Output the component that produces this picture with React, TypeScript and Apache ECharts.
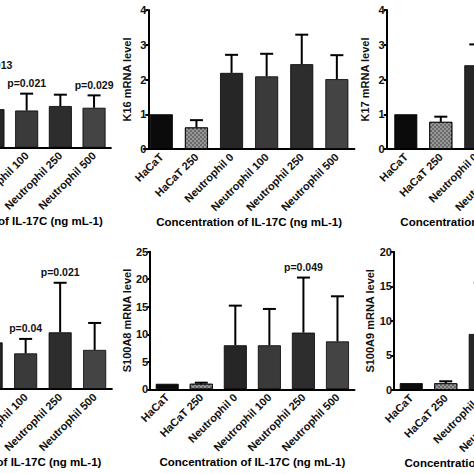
import React, { useEffect, useRef } from "react";
import * as echarts from "echarts";

const OX = 200;
const W = 820;
const FONT = "'Liberation Sans', Arial, sans-serif";

const categories = ["HaCaT", "HaCaT 250", "Neutrophil 0", "Neutrophil 100", "Neutrophil 250", "Neutrophil 500"];
const xTitle = "Concentration of IL-17C (ng mL-1)";

// top-left panel (cropped)
const tlMeans = [1.0, 0.9, 1.12, 1.08, 1.21, 1.16];
const tlErrTop = [null, 1.0, 2.09, 1.57, 1.54, 1.52];
const tlP = ["", "", "p=0.013", "p=0.021", "", "p=0.029"];

// K16
const k16Means = [1.0, 0.62, 2.19, 2.09, 2.44, 2.01];
const k16ErrTop = [null, 0.83, 2.71, 2.74, 3.29, 2.7];
const k16P = ["", "", "", "", "", ""];

// K17 (cropped)
const k17Means = [1.0, 0.78, 2.41, 2.3, 2.5, 2.2];
const k17ErrTop = [null, 0.93, 3.01, 3.0, 3.2, 2.9];
const k17P = ["", "", "", "", "", ""];

// bottom-left panel (cropped)
const blMeans = [1.0, 1.1, 8.46, 6.47, 10.3, 7.1];
const blErrTop = [null, 1.3, 13.0, 9.1, 19.3, 12.0];
const blP = ["", "", "", "p=0.04", "p=0.021", ""];

// S100A8
const a8Means = [1.0, 1.0, 8.0, 8.0, 10.3, 8.7];
const a8ErrTop = [null, 1.2, 15.2, 14.6, 20.3, 16.9];
const a8P = ["", "", "", "", "p=0.049", ""];

// S100A9 (cropped)
const a9Means = [1.0, 0.97, 8.1, 8.0, 9.5, 8.5];
const a9ErrTop = [null, 1.26, 15.5, 14.5, 17.0, 15.0];
const a9P = ["", "", "", "", "", ""];

const yTicks4 = { max: 4, interval: 1 };
const yTicks25 = { max: 25, interval: 5 };
const yTicks20 = { max: 20, interval: 5 };

const barColors = ["#0b0b0b", "#6a6a6a", "#262626", "#3a3a3a", "#2d2d2d", "#444444"];

const panels = [
  { left: -91.3, top: 10, width: 202.2, height: 137.7, yOffset: 0, yName: "", ticks: yTicks4, means: tlMeans, errs: tlErrTop, p: tlP, nameGap: 64 },
  { left: 143.8, top: 10, width: 210.6, height: 139, yOffset: -4.5, yName: "K16 mRNA level", ticks: yTicks4, means: k16Means, errs: k16ErrTop, p: k16P, nameGap: 64 },
  { left: 388.3, top: 10, width: 210, height: 139, yOffset: 1.6, yName: "K17 mRNA level", ticks: yTicks4, means: k17Means, errs: k17ErrTop, p: k17P, nameGap: 64 },
  { left: -95.1, top: 251.4, width: 207, height: 137.6, yOffset: 0, yName: "", ticks: yTicks25, means: blMeans, errs: blErrTop, p: blP, nameGap: 65 },
  { left: 150.2, top: 251.7, width: 204.3, height: 137.6, yOffset: 0, yName: "S100A8 mRNA level", ticks: yTicks25, means: a8Means, errs: a8ErrTop, p: a8P, nameGap: 65 },
  { left: 394, top: 251.7, width: 207, height: 138.3, yOffset: 0, yName: "S100A9 mRNA level", ticks: yTicks20, means: a9Means, errs: a9ErrTop, p: a9P, nameGap: 65 },
];

export default function App() {
  const ref = useRef<HTMLDivElement>(null);
  useEffect(() => {
    if (!ref.current) return;
    const chart = echarts.init(ref.current, null, { renderer: "svg" });
    const option: any = {
      animation: false,
      backgroundColor: "#fff",
      textStyle: { fontFamily: FONT },
      grid: panels.map((p) => ({ left: p.left + OX, top: p.top, width: p.width, height: p.height })),
      xAxis: panels.map((p, i) => ({
        type: "category",
        gridIndex: i,
        data: categories,
        boundaryGap: true,
        axisLine: { lineStyle: { color: "#000", width: 2 } },
        axisTick: { alignWithLabel: true, length: 4, lineStyle: { color: "#000", width: 2 } },
        axisLabel: { rotate: 45, interval: 0, fontSize: 11, fontWeight: "bold", color: "#111", fontFamily: FONT, margin: 6 },
        name: xTitle,
        nameLocation: "middle",
        nameGap: p.nameGap,
        nameTextStyle: { fontSize: 11.5, fontWeight: "bold", color: "#000", fontFamily: FONT },
      })),
      yAxis: panels.map((p, i) => ({
        type: "value",
        gridIndex: i,
        min: 0,
        max: p.ticks.max,
        interval: p.ticks.interval,
        offset: p.yOffset,
        splitLine: { show: false },
        axisLine: { show: true, lineStyle: { color: "#000", width: 2 } },
        axisTick: { show: true, length: 3, lineStyle: { color: "#000", width: 2 } },
        axisLabel: { fontSize: 11, fontWeight: "bold", color: "#111", fontFamily: FONT, margin: 2 },
        name: p.yName,
        nameLocation: "middle",
        nameGap: 16,
        nameTextStyle: { fontSize: 11, fontWeight: "bold", color: "#111", fontFamily: FONT },
      })),
      series: panels.flatMap((p, i) => [
        {
          type: "bar",
          xAxisIndex: i,
          yAxisIndex: i,
          barWidth: 23,
          data: p.means.map((v, j) => ({
            value: v,
            itemStyle: {
              color: barColors[j],
              borderColor: "#000",
              borderWidth: 0.8,
              decal:
                j === 1
                  ? { symbol: "rect", symbolSize: 1, dashArrayX: [[2, 2], [0, 2, 2, 0]], dashArrayY: [2, 0], color: "rgba(255,255,255,0.3)", rotation: 0 }
                  : undefined,
            },
          })),
        },
        {
          type: "custom",
          xAxisIndex: i,
          yAxisIndex: i,
          clip: false,
          z: 5,
          data: p.means.map((v, j) => [j, v, p.errs[j] == null ? v : p.errs[j]]),
          renderItem: (params: any, api: any) => {
            const j = params.dataIndex;
            const e = p.errs[j];
            const children: any[] = [];
            if (e != null) {
              const base = api.coord([j, p.means[j]]);
              const top = api.coord([j, e]);
              children.push({ type: "line", shape: { x1: base[0], y1: base[1], x2: top[0], y2: top[1] }, style: { stroke: "#000", lineWidth: 2 } });
              children.push({ type: "line", shape: { x1: top[0] - 6.5, y1: top[1], x2: top[0] + 6.5, y2: top[1] }, style: { stroke: "#000", lineWidth: 2 } });
              if (p.p[j]) {
                children.push({
                  type: "text",
                  x: top[0],
                  y: top[1] - 5,
                  style: { text: p.p[j], textAlign: "center", textVerticalAlign: "bottom", fontSize: 10.5, fontWeight: "bold", fill: "#111", fontFamily: FONT },
                });
              }
            }
            return { type: "group", children };
          },
        },
      ]),
    };
    chart.setOption(option);
    return () => chart.dispose();
  }, []);
  return (
    <div style={{ position: "absolute", left: 0, top: 0, width: 474, height: 474, overflow: "hidden", background: "#fff" }}>
      <div ref={ref} style={{ position: "absolute", left: -OX, top: 0, width: W, height: 474 }} />
    </div>
  );
}
